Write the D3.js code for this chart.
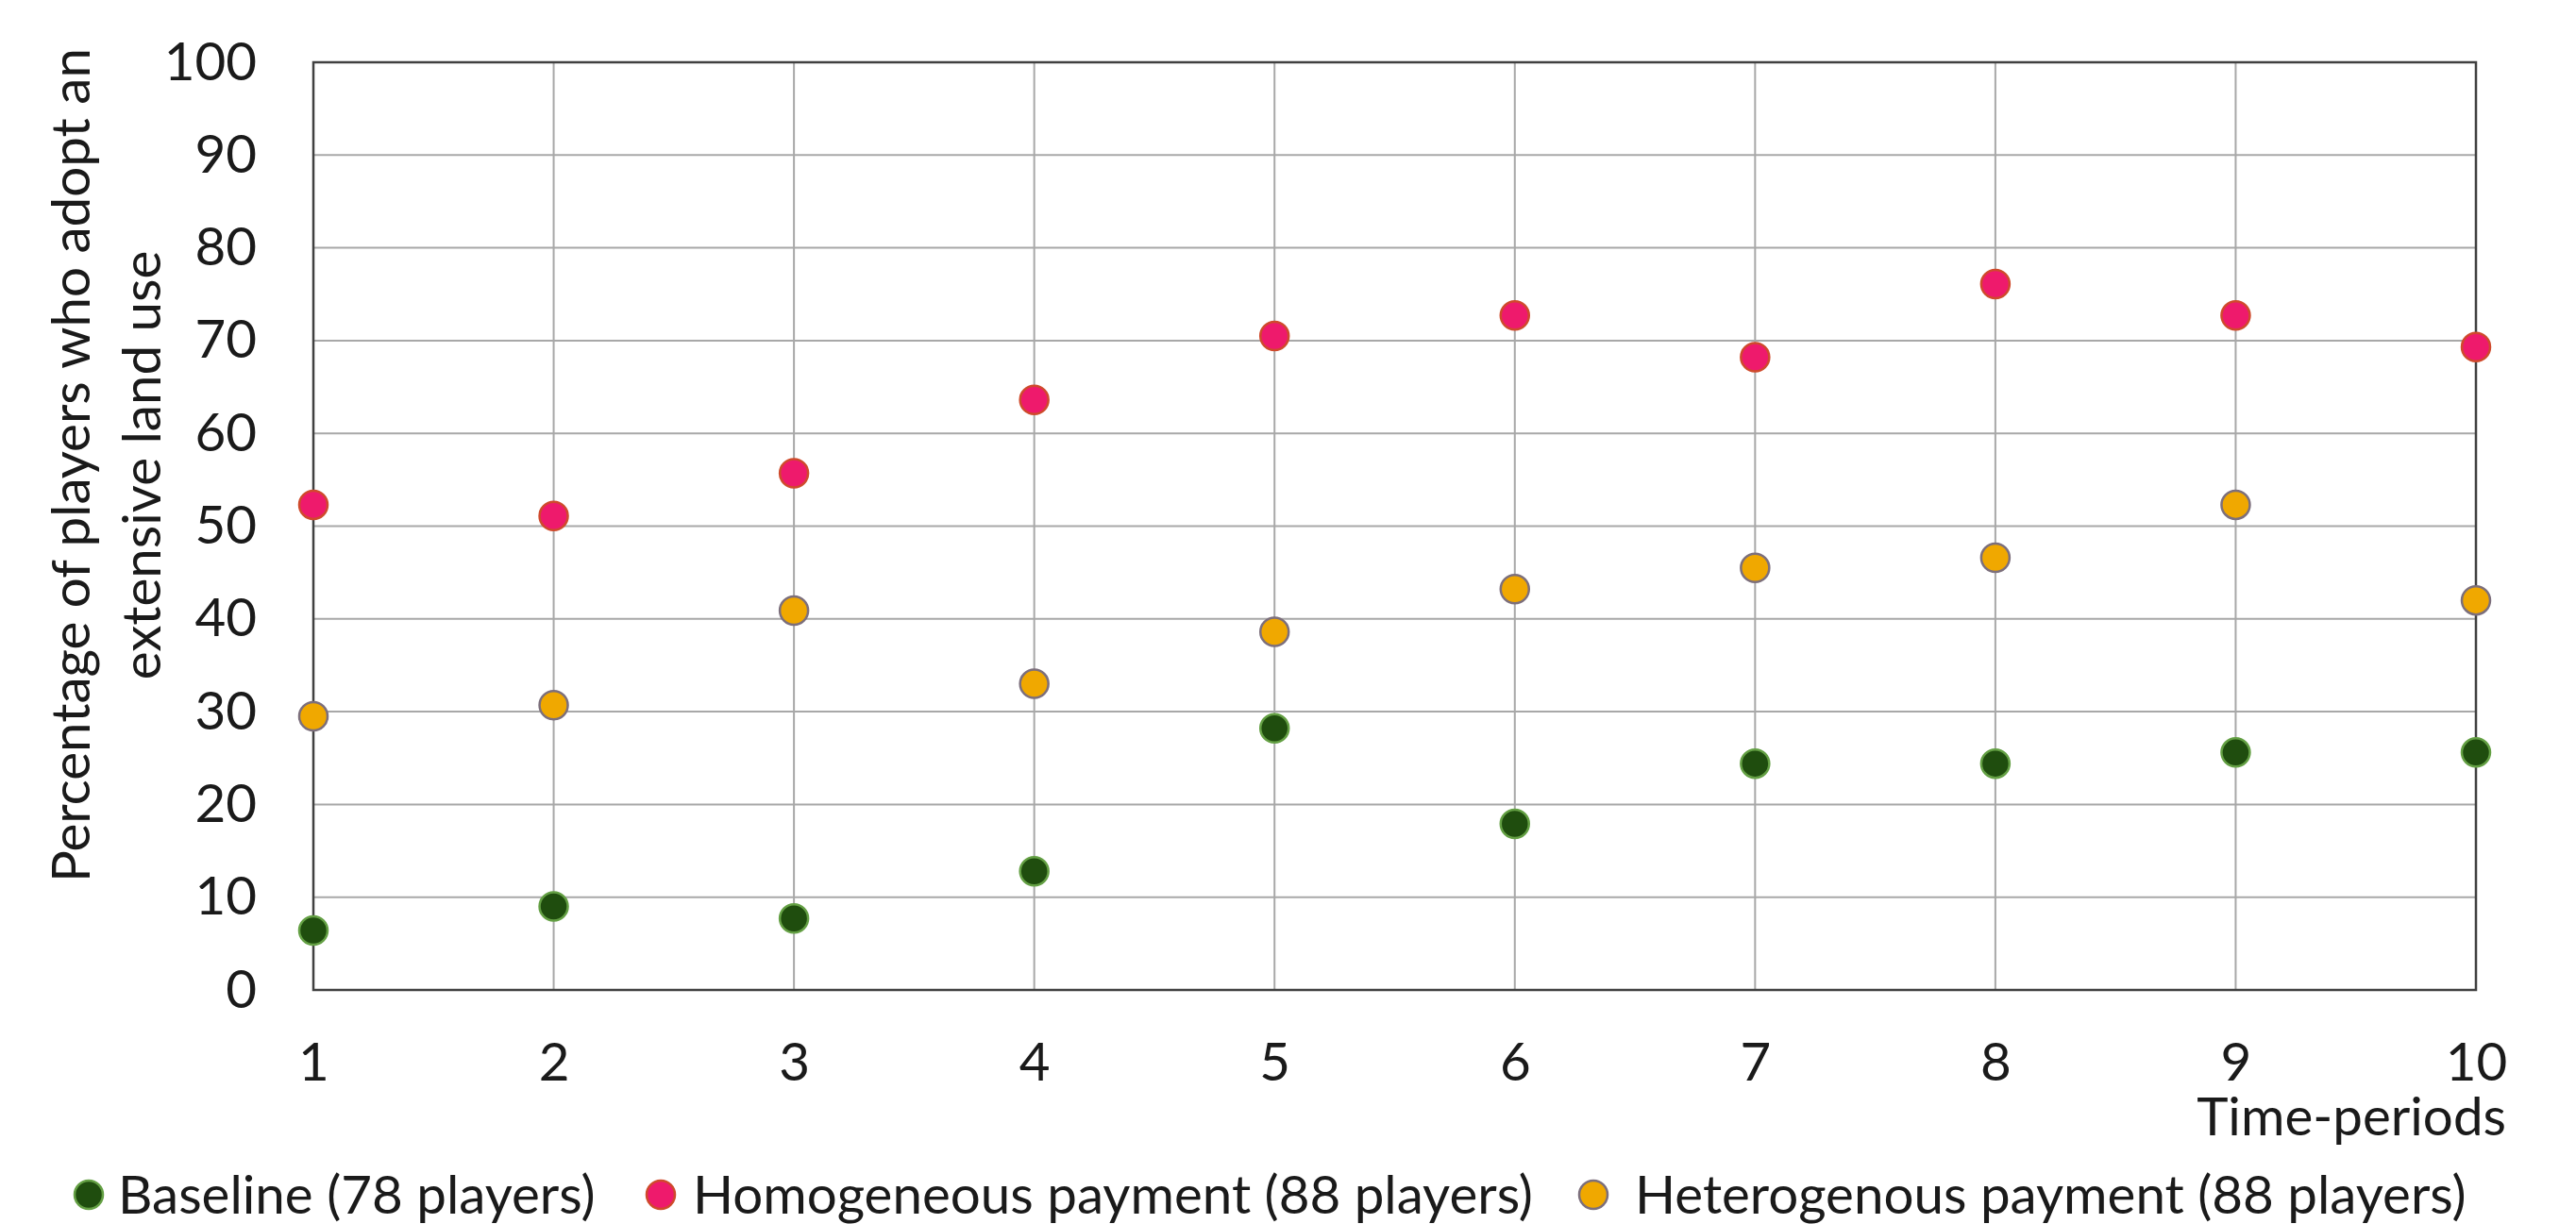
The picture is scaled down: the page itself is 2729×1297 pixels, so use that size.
<!DOCTYPE html>
<html>
<head>
<meta charset="utf-8">
<script src="https://cdn.jsdelivr.net/npm/d3@7"></script>
<style>
  html, body { margin: 0; padding: 0; background: #fff; }
  svg { display: block; }
  text { font-family: Lato, "Open Sans", sans-serif; fill: #1a1a1a; }
</style>
</head>
<body>
<svg id="chart" width="2729" height="1297"></svg>
<script>
// Time periods on the x axis
const periods = [1, 2, 3, 4, 5, 6, 7, 8, 9, 10];

// Share of players (%) adopting an extensive land use, per treatment
const baseline      = [6.4, 9.0, 7.7, 12.8, 28.2, 17.9, 24.4, 24.4, 25.6, 25.6];
const homogeneous   = [52.3, 51.1, 55.7, 63.6, 70.5, 72.7, 68.2, 76.1, 72.7, 69.3];
const heterogeneous = [29.5, 30.7, 40.9, 33.0, 38.6, 43.2, 45.5, 46.6, 52.3, 42.0];

const seriesNames = [
  "Baseline (78 players)",
  "Homogeneous payment (88 players)",
  "Heterogenous payment (88 players)"
];
const yTicks = [0, 10, 20, 30, 40, 50, 60, 70, 80, 90, 100];

const styles = [
  { fill: "#1f4d0e", stroke: "#64a044" },
  { fill: "#ee1a6c", stroke: "#cf4a2c" },
  { fill: "#f0a800", stroke: "#7c6f7c" }
];

const svg = d3.select("#chart");
const plot = { left: 332, right: 2623, top: 66, bottom: 1049 };

const x = d3.scaleLinear().domain([1, 10]).range([plot.left, plot.right]);
const y = d3.scaleLinear().domain([0, 100]).range([plot.bottom, plot.top]);

const FS = 56.5;

// Grid lines
const grid = svg.append("g");
grid.selectAll("line.h").data(yTicks).join("line")
  .attr("x1", plot.left).attr("x2", plot.right)
  .attr("y1", d => y(d)).attr("y2", d => y(d))
  .attr("stroke", "#a8a8a8").attr("stroke-width", 2);
grid.selectAll("line.v").data(periods).join("line")
  .attr("x1", d => x(d)).attr("x2", d => x(d))
  .attr("y1", plot.top).attr("y2", plot.bottom)
  .attr("stroke", "#a8a8a8").attr("stroke-width", 2);

// Plot frame
svg.append("rect")
  .attr("x", plot.left).attr("y", plot.top)
  .attr("width", plot.right - plot.left).attr("height", plot.bottom - plot.top)
  .attr("fill", "none").attr("stroke", "#404040").attr("stroke-width", 2.5);

// Y axis labels
const yAxis = svg.append("g")
  .attr("transform", `translate(${plot.left},0)`)
  .call(d3.axisLeft(y).tickValues(yTicks).tickSize(0).tickPadding(60));
yAxis.select(".domain").remove();
yAxis.selectAll("text")
  .attr("font-size", FS).attr("fill", "#1a1a1a")
  .style("font-family", "Lato, 'Open Sans', sans-serif");

// X axis labels
const xAxis = svg.append("g")
  .attr("transform", `translate(0,${plot.bottom})`)
  .call(d3.axisBottom(x).tickValues(periods).tickFormat(d3.format("d")).tickSize(0).tickPadding(56));
xAxis.select(".domain").remove();
xAxis.selectAll("text")
  .attr("font-size", FS).attr("fill", "#1a1a1a")
  .style("font-family", "Lato, 'Open Sans', sans-serif");

// Axis titles
svg.append("text")
  .attr("x", 2655).attr("y", 1203)
  .attr("text-anchor", "end").attr("font-size", FS)
  .text("Time-periods");

const yTitle = svg.append("text")
  .attr("transform", "translate(0,493) rotate(-90)")
  .attr("text-anchor", "middle").attr("font-size", FS);
yTitle.append("tspan").attr("x", 0).attr("y", 95).text("Percentage of players who adopt an");
yTitle.append("tspan").attr("x", 0).attr("y", 170).text("extensive land use");

// Data points
const allSeries = [baseline, homogeneous, heterogeneous];
allSeries.forEach((vals, i) => {
  svg.append("g").selectAll("circle")
    .data(vals.map((v, j) => ({ p: periods[j], v })))
    .join("circle")
    .attr("cx", d => x(d.p)).attr("cy", d => y(d.v))
    .attr("r", 15)
    .attr("fill", styles[i].fill)
    .attr("stroke", styles[i].stroke).attr("stroke-width", 2.5);
});

// Legend
const legendPos = [
  { mx: 94, tx: 125 },
  { mx: 700, tx: 734 },
  { mx: 1688, tx: 1732 }
];
const legendY = 1266;
const legend = svg.append("g");
seriesNames.forEach((name, i) => {
  legend.append("circle")
    .attr("cx", legendPos[i].mx).attr("cy", legendY).attr("r", 15)
    .attr("fill", styles[i].fill)
    .attr("stroke", styles[i].stroke).attr("stroke-width", 2.5);
  legend.append("text")
    .attr("x", legendPos[i].tx).attr("y", legendY)
    .attr("dy", "0.36em").attr("font-size", FS)
    .text(name);
});
</script>
</body>
</html>
